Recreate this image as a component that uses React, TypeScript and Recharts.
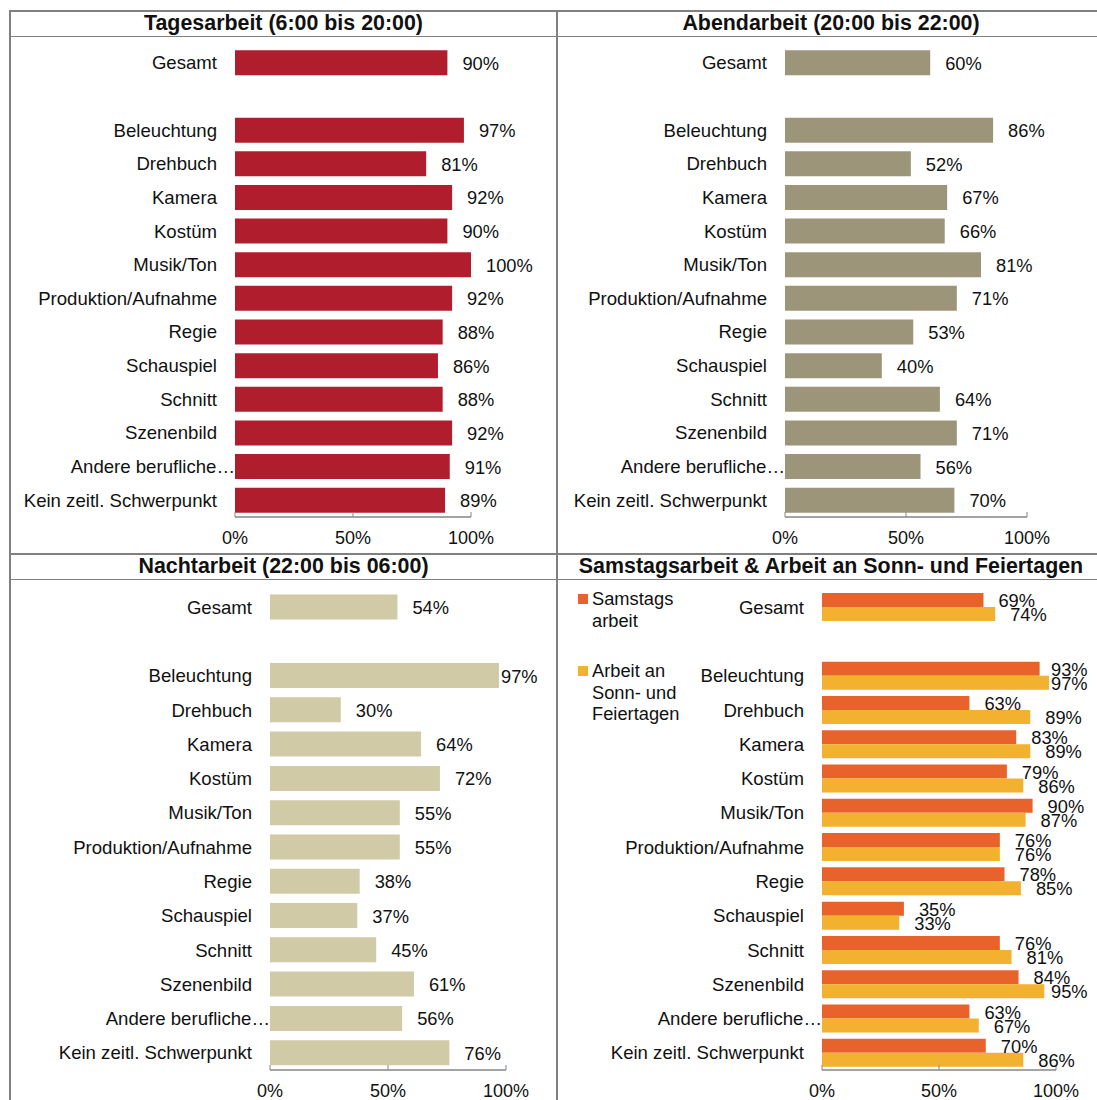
import React from "react";
import { BarChart, Bar, XAxis, YAxis, LabelList } from "recharts";

// ---------- data ----------
const categories = [
  "Gesamt",
  "",
  "Beleuchtung",
  "Drehbuch",
  "Kamera",
  "Kostüm",
  "Musik/Ton",
  "Produktion/Aufnahme",
  "Regie",
  "Schauspiel",
  "Schnitt",
  "Szenenbild",
  "Andere berufliche…",
  "Kein zeitl. Schwerpunkt",
];

const tagesarbeit = [90, null, 97, 81, 92, 90, 100, 92, 88, 86, 88, 92, 91, 89];
const abendarbeit = [60, null, 86, 52, 67, 66, 81, 71, 53, 40, 64, 71, 56, 70];
const nachtarbeit = [54, null, 97, 30, 64, 72, 55, 55, 38, 37, 45, 61, 56, 76];
const samstagsarbeit = [69, null, 93, 63, 83, 79, 90, 76, 78, 35, 76, 84, 63, 70];
const sonnFeiertagsarbeit = [74, null, 97, 89, 89, 86, 87, 76, 85, 33, 81, 95, 67, 86];

const panelTitles = [
  "Tagesarbeit (6:00 bis 20:00)",
  "Abendarbeit (20:00 bis 22:00)",
  "Nachtarbeit (22:00 bis 06:00)",
  "Samstagsarbeit & Arbeit an Sonn- und Feiertagen",
];

const weekendSeriesNames = ["Samstagsarbeit", "Arbeit an Sonn- und Feiertagen"];
const weekendLegendLines = [
  ["Samstags", "arbeit"],
  ["Arbeit an", "Sonn- und", "Feiertagen"],
];

const xTicks = [0, 50, 100];

// ---------- styles ----------
const FONT = "'Liberation Sans', Arial, Helvetica, sans-serif";
const TEXT = "#111111";
const GRID = "#808080";
const AXIS = "#868686";
const COLORS = {
  tag: "#B01E2E",
  abend: "#9C957A",
  nacht: "#D0CBA6",
  samstag: "#E8622C",
  sonntag: "#F2B12E",
};

function buildRows(series: Record<string, (number | null)[]>) {
  return categories.map((cat, i) => {
    const row: Record<string, any> = { cat };
    Object.keys(series).forEach((k) => {
      row[k] = series[k][i];
    });
    return row;
  });
}

const XTick = (props: any) => {
  const { x, y, payload } = props;
  return (
    <g>
      <line x1={x} x2={x} y1={y - 5} y2={y} stroke={AXIS} strokeWidth={1} />
      <text x={x} y={y + 27} textAnchor="middle" fontSize={18} fill={TEXT} fontFamily={FONT}>
        {payload.value}%
      </text>
    </g>
  );
};

const YTick = (props: any) => {
  const { x, y, payload } = props;
  const label = String(payload.value ?? "");
  const truncated = label.endsWith("…");
  return (
    <text
      x={truncated ? x + 18 : x}
      y={y}
      textAnchor="end"
      dominantBaseline="central"
      fontSize={18.6}
      fill={TEXT}
      fontFamily={FONT}
    >
      {label}
    </text>
  );
};

const makeLabel = (clampX: number | null) => (props: any) => {
  const { x, y, width, height, value } = props;
  if (value === null || value === undefined) return null;
  let lx = Number(x) + Number(width) + 15;
  if (clampX !== null) lx = Math.min(lx, clampX);
  return (
    <text
      x={lx}
      y={Number(y) + Number(height) / 2 + 0.5}
      dominantBaseline="central"
      fontSize={18.3}
      fill={TEXT}
      fontFamily={FONT}
    >
      {value}%
    </text>
  );
};

type BarDef = { key: string; name: string; color: string };

type PanelProps = {
  left: number;
  top: number;
  width: number;
  height: number;
  margin: { top: number; right: number; bottom: number; left: number };
  yAxisWidth: number;
  rows: Record<string, any>[];
  bars: BarDef[];
  categoryGap: string;
  clamp: boolean;
};

function Panel(p: PanelProps) {
  const clampX = p.clamp ? p.width - p.margin.right - 5 : null;
  return (
    <div style={{ position: "absolute", left: p.left, top: p.top }}>
      <BarChart
        width={p.width}
        height={p.height}
        data={p.rows}
        layout="vertical"
        margin={p.margin}
        barCategoryGap={p.categoryGap}
        barGap={0}
      >
        <XAxis
          type="number"
          domain={[0, 100]}
          ticks={xTicks}
          interval={0}
          tickSize={0}
          tickMargin={0}
          tickLine={false}
          axisLine={{ stroke: AXIS, strokeWidth: 1.5 }}
          tick={<XTick />}
          height={30}
        />
        <YAxis
          type="category"
          dataKey="cat"
          width={p.yAxisWidth}
          interval={0}
          tickSize={0}
          tickMargin={18}
          tickLine={false}
          axisLine={false}
          tick={<YTick />}
        />
        {p.bars.map((b) => (
          <Bar key={b.key} dataKey={b.key} name={b.name} fill={b.color} isAnimationActive={false}>
            <LabelList dataKey={b.key} content={makeLabel(clampX)} />
          </Bar>
        ))}
      </BarChart>
    </div>
  );
}

const Line = ({ x, y, w, h }: { x: number; y: number; w: number; h: number }) => (
  <div style={{ position: "absolute", left: x, top: y, width: w, height: h, background: GRID }} />
);

const Title = ({ left, width, top, text }: { left: number; width: number; top: number; text: string }) => (
  <div
    style={{
      position: "absolute",
      left,
      width,
      top,
      height: 25,
      lineHeight: "25px",
      textAlign: "center",
      fontWeight: "bold",
      fontSize: 21.4,
      fontFamily: FONT,
      color: TEXT,
      whiteSpace: "nowrap",
    }}
  >
    {text}
  </div>
);

export default function App() {
  const dayRows = buildRows({ v: tagesarbeit });
  const eveRows = buildRows({ v: abendarbeit });
  const nightRows = buildRows({ v: nachtarbeit });
  const weekendRows = buildRows({ sa: samstagsarbeit, so: sonnFeiertagsarbeit });
  const legendColors = [COLORS.samstag, COLORS.sonntag];
  const legendTops = [588, 660];

  return (
    <div
      style={{
        position: "absolute",
        left: 0,
        top: 0,
        width: 1097,
        height: 1100,
        background: "#ffffff",
        overflow: "hidden",
        fontFamily: FONT,
      }}
    >
      {/* table grid */}
      <Line x={10} y={10} w={1087} h={2} />
      <Line x={10} y={36} w={1087} h={1} />
      <Line x={10} y={553} w={1087} h={2} />
      <Line x={10} y={579} w={1087} h={1} />
      <Line x={9} y={10} w={2} h={1090} />
      <Line x={556} y={10} w={2} h={1090} />

      <Title left={10} width={547} top={11} text={panelTitles[0]} />
      <Title left={557} width={548} top={11} text={panelTitles[1]} />
      <Title left={10} width={547} top={554} text={panelTitles[2]} />
      <Title left={557} width={548} top={554} text={panelTitles[3]} />

      <Panel
        left={10}
        top={36}
        width={547}
        height={518}
        margin={{ top: 10, right: 86, bottom: 7, left: 10 }}
        yAxisWidth={215}
        rows={dayRows}
        bars={[{ key: "v", name: panelTitles[0], color: COLORS.tag }]}
        categoryGap="13%"
        clamp={false}
      />
      <Panel
        left={557}
        top={36}
        width={540}
        height={518}
        margin={{ top: 10, right: 70, bottom: 7, left: 10 }}
        yAxisWidth={218}
        rows={eveRows}
        bars={[{ key: "v", name: panelTitles[1], color: COLORS.abend }]}
        categoryGap="13%"
        clamp={false}
      />
      <Panel
        left={10}
        top={579}
        width={547}
        height={521}
        margin={{ top: 11, right: 51, bottom: 0, left: 10 }}
        yAxisWidth={250}
        rows={nightRows}
        bars={[{ key: "v", name: panelTitles[2], color: COLORS.nacht }]}
        categoryGap="13%"
        clamp={true}
      />
      <Panel
        left={557}
        top={579}
        width={540}
        height={521}
        margin={{ top: 11, right: 41, bottom: 0, left: 10 }}
        yAxisWidth={255}
        rows={weekendRows}
        bars={[
          { key: "sa", name: weekendSeriesNames[0], color: COLORS.samstag },
          { key: "so", name: weekendSeriesNames[1], color: COLORS.sonntag },
        ]}
        categoryGap="9%"
        clamp={true}
      />

      {/* legend for weekend panel */}
      {weekendSeriesNames.map((name, i) => (
        <div key={name} title={name}>
          <div
            style={{
              position: "absolute",
              left: 578,
              top: legendTops[i] + 6,
              width: 10,
              height: 10,
              background: legendColors[i],
            }}
          />
          <div
            style={{
              position: "absolute",
              left: 592,
              top: legendTops[i],
              fontSize: 18.3,
              lineHeight: "21.5px",
              color: TEXT,
              fontFamily: FONT,
              whiteSpace: "nowrap",
            }}
          >
            {weekendLegendLines[i].map((l) => (
              <div key={l}>{l}</div>
            ))}
          </div>
        </div>
      ))}
    </div>
  );
}
